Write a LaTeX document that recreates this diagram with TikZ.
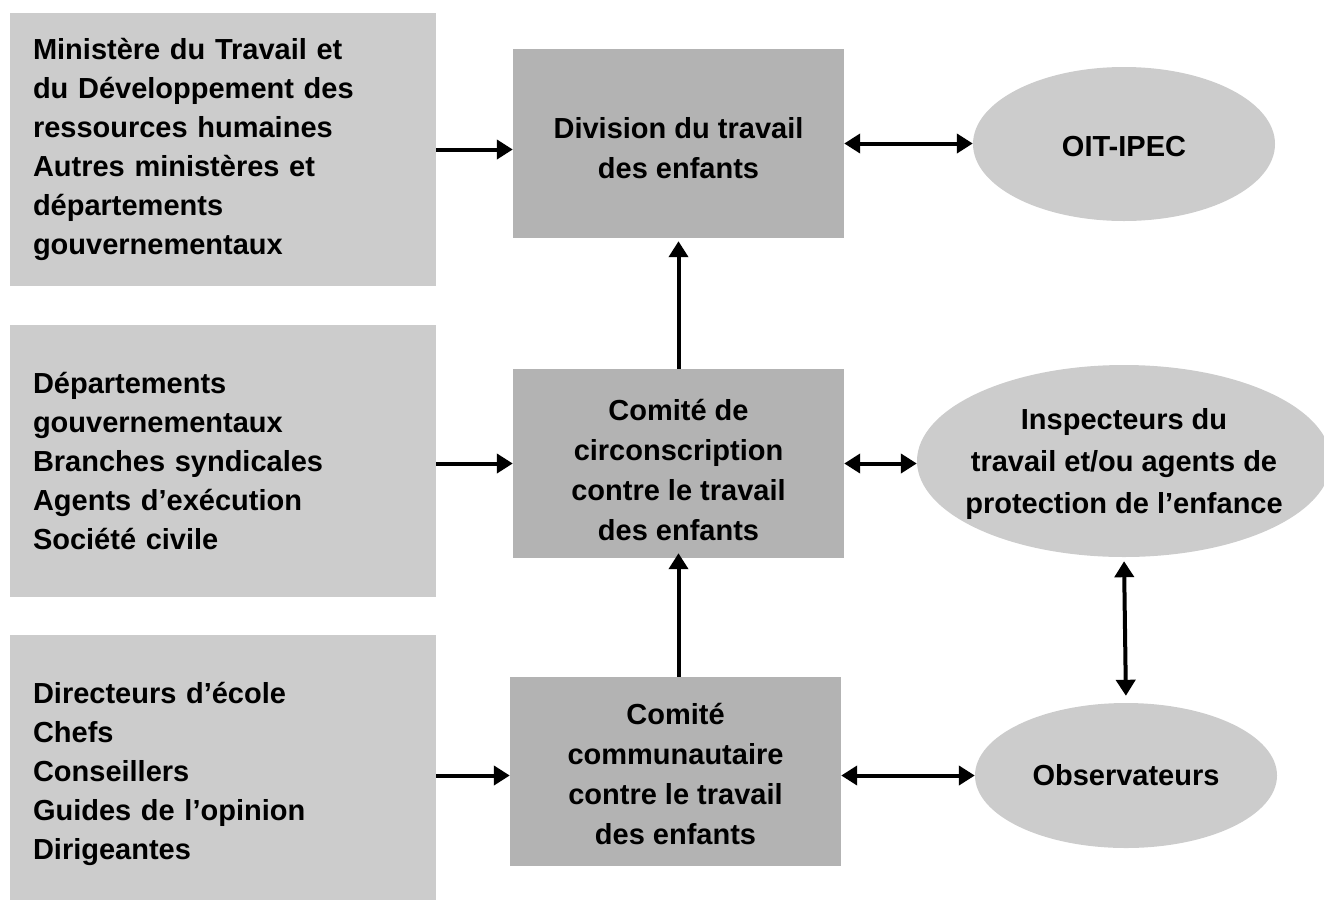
\documentclass[tikz,border=0pt]{standalone}
\usepackage{fontspec}
\setmainfont{Liberation Sans}
\usetikzlibrary{arrows.meta,shapes.geometric,calc}
\definecolor{lightbox}{HTML}{CCCCCC}
\definecolor{darkbox}{HTML}{B3B3B3}
\begin{document}
\begin{tikzpicture}[x=1pt,y=-1pt,
  every node/.style={font=\fontsize{29}{39}\selectfont\bfseries, inner sep=0pt},
  srcbox/.style={rectangle, fill=lightbox, minimum width=426pt, minimum height=#1, text width=380pt, align=left, inner xsep=23pt},
  midbox/.style={rectangle, fill=darkbox, minimum width=331pt, minimum height=189pt},
  midtext/.style={align=center, font=\fontsize{29}{40}\selectfont\bfseries},
  oval/.style={ellipse, fill=lightbox},
  arr/.style={line width=4pt, -{Triangle[length=16pt,width=19pt]}},
  darr/.style={line width=4pt, {Triangle[length=16pt,width=19pt]}-{Triangle[length=16pt,width=19pt]}}
]
\useasboundingbox (0,0) rectangle (1324,900);
% left boxes
\node[srcbox=273pt] (L1) at (223,149.5) {Ministère du Travail et\\du Développement des\\ressources humaines\\Autres ministères et\\départements\\gouvernementaux};
\node[srcbox=272pt] (L2) at (223,461) {Départements\\gouvernementaux\\Branches syndicales\\Agents d’exécution\\Société civile};
\node[srcbox=265pt] (L3) at (223,767.5) {};
\node[text width=380pt, align=left] (L3t) at ($(L3)+(0,6)$) {Directeurs d’école\\Chefs\\Conseillers\\Guides de l’opinion\\Dirigeantes};
% middle boxes
\node[midbox] (Div) at (678.5,143.5) {};
\node[midtext] (Divt) at ($(Div)+(0,5)$) {Division du travail\\des enfants};
\node[midbox] (Circ) at (678.5,463.5) {};
\node[midtext] (Circt) at ($(Circ)+(0,6)$) {Comité de\\circonscription\\contre le travail\\des enfants};
\node[midbox] (Comm) at (675.5,771.5) {};
\node[midtext] (Commt) at ($(Comm)+(0,2)$) {Comité\\communautaire\\contre le travail\\des enfants};
% ellipses
\node[oval, minimum width=302pt, minimum height=154pt] (OIT) at (1124,144) {};
\node (OITt) at ($(OIT)+(0,3)$) {OIT-IPEC};
\node[oval, minimum width=414pt, minimum height=192pt] (Insp) at (1124,461) {};
\node[align=center, font=\fontsize{29}{42}\selectfont\bfseries] (Inspt) at ($(Insp)+(0,3)$) {Inspecteurs du\\travail et/ou agents de\\protection de l’enfance};
\node[oval, minimum width=302pt, minimum height=145pt] (Obs) at (1126,775.5) {};
\node (Obst) at (Obs) {Observateurs};
% arrows left -> middle
\draw[arr] (L1.east) -- (L1.east -| Div.west);
\draw[arr] (L2.east |- Circ.west) -- (Circ.west);
\draw[arr] ($(L3.east |- Comm.west)+(0,4)$) -- ($(Comm.west)+(0,4)$);
% vertical arrows
\draw[arr, shorten >=3pt] (Circ.north) -- (Div.south);
\draw[arr, shorten >=-5pt] (Circ.south |- Comm.north) -- (Circ.south);
% double arrows
\draw[darr] (Div.east) -- (Div.east -| OIT.west);
\draw[darr] (Circ.east) -- (Circ.east -| Insp.west);
\draw[darr] ($(Comm.east)+(0,4)$) -- ($(Comm.east -| Obs.west)+(0,4)$);
\draw[darr, shorten <=4pt, shorten >=7pt] (Insp.south) -- (Obs.north);
\end{tikzpicture}
\end{document}
